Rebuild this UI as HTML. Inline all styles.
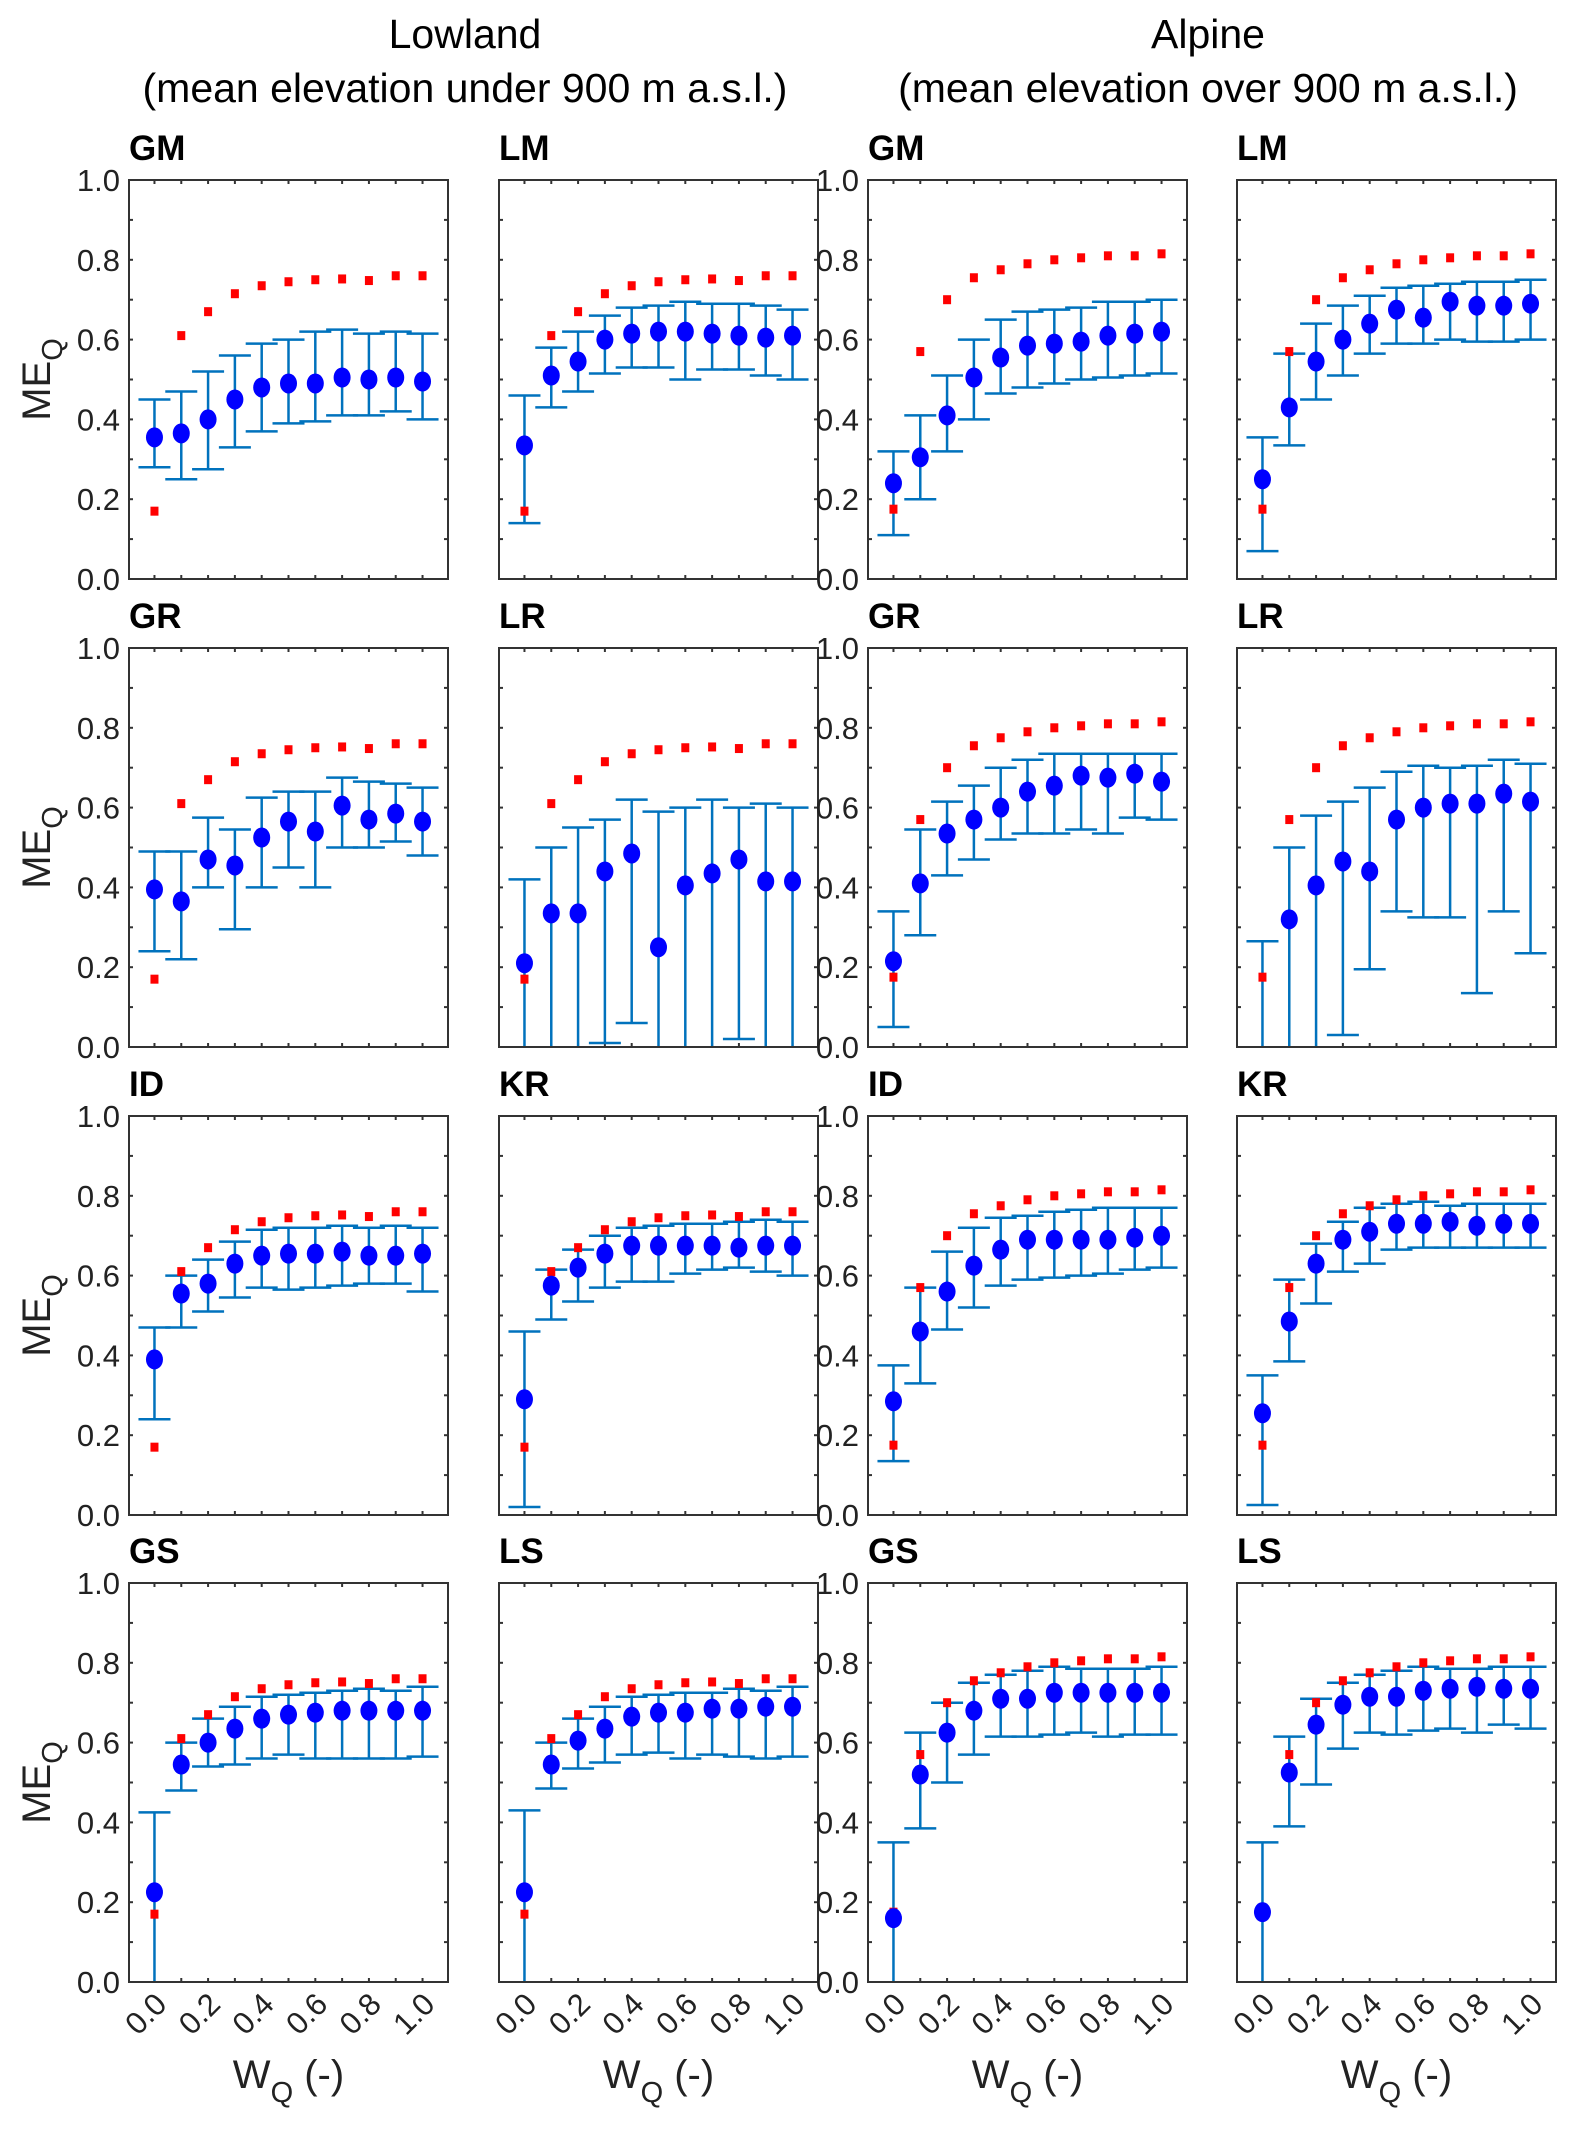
<!DOCTYPE html>
<html><head><meta charset="utf-8"><style>
html,body{margin:0;padding:0;background:#fff;}
svg text{font-family:"Liberation Sans",Arial,sans-serif;}
</style></head><body>
<svg id="fig" width="1574" height="2124" viewBox="0 0 1574 2124" xmlns="http://www.w3.org/2000/svg">
<text x="465" y="48" font-size="41" text-anchor="middle">Lowland</text>
<text x="465" y="102" font-size="41" text-anchor="middle">(mean elevation under 900 m a.s.l.)</text>
<text x="1208" y="48" font-size="41" text-anchor="middle">Alpine</text>
<text x="1208" y="102" font-size="41" text-anchor="middle">(mean elevation over 900 m a.s.l.)</text>
</svg>
<script>
const wq=[0,0.1,0.2,0.3,0.4,0.5,0.6,0.7,0.8,0.9,1.0];
const yTicks=[0,0.2,0.4,0.6,0.8,1.0];
const xTickLabels=[0,0.2,0.4,0.6,0.8,1.0];
const redLowland=[0.17,0.61,0.67,0.715,0.735,0.745,0.75,0.752,0.748,0.76,0.76];
const redAlpine=[0.175,0.57,0.70,0.755,0.775,0.79,0.80,0.805,0.81,0.81,0.815];
const panelNames=["GM","LM","GM","LM","GR","LR","GR","LR","ID","KR","ID","KR","GS","LS","GS","LS"];
const meanVals=[
[0.355,0.365,0.40,0.45,0.48,0.49,0.49,0.505,0.50,0.505,0.495],
[0.335,0.51,0.545,0.60,0.615,0.62,0.62,0.615,0.61,0.605,0.61],
[0.24,0.305,0.41,0.505,0.555,0.585,0.59,0.595,0.61,0.615,0.62],
[0.25,0.43,0.545,0.60,0.64,0.675,0.655,0.695,0.685,0.685,0.69],
[0.395,0.365,0.47,0.455,0.525,0.565,0.54,0.605,0.57,0.585,0.565],
[0.21,0.335,0.335,0.44,0.485,0.25,0.405,0.435,0.47,0.415,0.415],
[0.215,0.41,0.535,0.57,0.60,0.64,0.655,0.68,0.675,0.685,0.665],
[-0.05,0.32,0.405,0.465,0.44,0.57,0.60,0.61,0.61,0.635,0.615],
[0.39,0.555,0.58,0.63,0.65,0.655,0.655,0.66,0.65,0.65,0.655],
[0.29,0.575,0.62,0.655,0.675,0.675,0.675,0.675,0.67,0.675,0.675],
[0.285,0.46,0.56,0.625,0.665,0.69,0.69,0.69,0.69,0.695,0.70],
[0.255,0.485,0.63,0.69,0.71,0.73,0.73,0.735,0.725,0.73,0.73],
[0.225,0.545,0.60,0.635,0.66,0.67,0.675,0.68,0.68,0.68,0.68],
[0.225,0.545,0.605,0.635,0.665,0.675,0.675,0.685,0.685,0.69,0.69],
[0.16,0.52,0.625,0.68,0.71,0.71,0.725,0.725,0.725,0.725,0.725],
[0.175,0.525,0.645,0.695,0.715,0.715,0.73,0.735,0.74,0.735,0.735]];
const hiVals=[
[0.45,0.47,0.52,0.56,0.59,0.60,0.62,0.625,0.615,0.62,0.615],
[0.46,0.58,0.62,0.66,0.68,0.685,0.695,0.69,0.69,0.685,0.675],
[0.32,0.41,0.51,0.60,0.65,0.67,0.675,0.68,0.695,0.695,0.70],
[0.355,0.565,0.64,0.685,0.71,0.73,0.735,0.74,0.745,0.745,0.75],
[0.49,0.49,0.575,0.545,0.625,0.64,0.64,0.675,0.665,0.66,0.65],
[0.42,0.50,0.55,0.57,0.62,0.59,0.60,0.62,0.60,0.61,0.60],
[0.34,0.545,0.615,0.655,0.70,0.72,0.735,0.735,0.735,0.735,0.735],
[0.265,0.50,0.58,0.615,0.65,0.69,0.705,0.70,0.705,0.72,0.71],
[0.47,0.60,0.64,0.685,0.715,0.72,0.72,0.725,0.72,0.725,0.72],
[0.46,0.615,0.665,0.70,0.72,0.725,0.73,0.73,0.735,0.74,0.735],
[0.375,0.57,0.66,0.72,0.745,0.75,0.76,0.765,0.77,0.77,0.77],
[0.35,0.59,0.68,0.735,0.77,0.78,0.785,0.775,0.78,0.78,0.78],
[0.425,0.60,0.66,0.69,0.715,0.72,0.725,0.73,0.735,0.73,0.74],
[0.43,0.60,0.66,0.69,0.715,0.72,0.725,0.725,0.735,0.73,0.74],
[0.35,0.625,0.70,0.75,0.77,0.78,0.79,0.785,0.785,0.785,0.79],
[0.35,0.615,0.71,0.75,0.77,0.78,0.79,0.785,0.785,0.79,0.79]];
const loVals=[
[0.28,0.25,0.275,0.33,0.37,0.39,0.395,0.41,0.41,0.42,0.40],
[0.14,0.43,0.47,0.515,0.53,0.53,0.50,0.525,0.525,0.51,0.50],
[0.11,0.20,0.32,0.40,0.465,0.48,0.49,0.50,0.505,0.51,0.515],
[0.07,0.335,0.45,0.51,0.565,0.59,0.59,0.60,0.595,0.595,0.60],
[0.24,0.22,0.40,0.295,0.40,0.45,0.40,0.50,0.50,0.515,0.48],
[-0.1,-0.1,-0.1,0.01,0.06,-0.1,-0.1,-0.1,0.02,-0.1,-0.1],
[0.05,0.28,0.43,0.47,0.52,0.535,0.535,0.545,0.535,0.575,0.57],
[-0.1,-0.1,-0.1,0.03,0.195,0.34,0.325,0.325,0.135,0.34,0.235],
[0.24,0.47,0.51,0.545,0.57,0.565,0.57,0.575,0.58,0.58,0.56],
[0.02,0.49,0.535,0.57,0.585,0.585,0.605,0.615,0.62,0.61,0.60],
[0.135,0.33,0.465,0.52,0.575,0.59,0.595,0.60,0.605,0.615,0.62],
[0.025,0.385,0.53,0.61,0.63,0.665,0.67,0.67,0.67,0.67,0.67],
[-0.1,0.48,0.54,0.545,0.56,0.57,0.56,0.56,0.56,0.56,0.565],
[-0.1,0.485,0.535,0.55,0.57,0.575,0.56,0.57,0.565,0.56,0.565],
[-0.1,0.385,0.50,0.57,0.615,0.615,0.62,0.625,0.615,0.62,0.62],
[-0.1,0.39,0.495,0.585,0.625,0.62,0.63,0.635,0.625,0.645,0.635]];

const NS="http://www.w3.org/2000/svg";
const svg=document.getElementById('fig');
const colX=[129,499,868,1237], rowY=[180,648,1116,1583], PW=319, PH=399;
function mk(tag,attrs,parent){const e=document.createElementNS(NS,tag);for(const k in attrs)e.setAttribute(k,attrs[k]);(parent||svg).appendChild(e);return e;}
const defs=mk('defs',{});
for(let p=0;p<16;p++){
  const r=Math.floor(p/4), c=p%4, L=colX[c], T=rowY[r];
  const alpine=c>=2;
  const red=alpine?redAlpine:redLowland;
  const sx=v=>L+PW*(v+0.095)/1.19;
  const sy=v=>T+PH*(1-v);
  const g=mk('g',{});
  
  
  const cp=mk('clipPath',{id:'cp'+p},defs);
  mk('rect',{x:L,y:T,width:PW,height:PH},cp);
  const t=mk('text',{x:L,y:T-20,'font-size':35,'font-weight':'bold'},g);
  t.textContent=panelNames[p];
  
  
  for(let i=0;i<=10;i++){const y=sy(i/10);
    mk('line',{x1:L,x2:L+4,y1:y,y2:y,stroke:'#333','stroke-width':2},g);
    mk('line',{x1:L+PW-4,x2:L+PW,y1:y,y2:y,stroke:'#333','stroke-width':2},g);}
  wq.forEach(v=>{const x=sx(v);
    mk('line',{x1:x,x2:x,y1:T,y2:T+4,stroke:'#333','stroke-width':2},g);
    mk('line',{x1:x,x2:x,y1:T+PH-4,y2:T+PH,stroke:'#333','stroke-width':2},g);});
  if(c===0||c===2){
    yTicks.forEach(v=>{const tl=mk('text',{x:L-9,y:sy(v)+11,'font-size':31,'text-anchor':'end',fill:'#222'},g);
      tl.textContent=v.toFixed(1);
      
      });
  }
  if(c===0){
    const yl=mk('text',{transform:`translate(50,${T+PH/2}) rotate(-90)`,'font-size':40,'text-anchor':'middle',fill:'#222'},g);
    yl.innerHTML='ME<tspan font-size="29" dy="12">Q</tspan>';
    
    
  }
  if(r===3){
    xTickLabels.forEach(v=>{const x=sx(v),y=T+PH+24;
      const tl=mk('text',{transform:`translate(${x+14},${y}) rotate(-45)`,'font-size':31,'text-anchor':'end',fill:'#222'},g);
      tl.textContent=v.toFixed(1);
      
      });
    const xl=mk('text',{x:L+PW/2,y:2088,'font-size':40,'text-anchor':'middle',fill:'#222'},g);
    xl.innerHTML='W<tspan font-size="29" dy="14">Q</tspan><tspan dy="-14"> (-)</tspan>';
    
    
  }
  const dg=mk('g',{'clip-path':`url(#cp${p})`},g);
  wq.forEach((v,i)=>{const x=sx(v);
    const eb=mk('g',{stroke:'#0072BD','stroke-width':2.5},dg);
    
    
    mk('line',{x1:x,x2:x,y1:sy(hiVals[p][i]),y2:sy(loVals[p][i])},eb);
    mk('line',{x1:x-16,x2:x+16,y1:sy(hiVals[p][i]),y2:sy(hiVals[p][i])},eb);
    mk('line',{x1:x-16,x2:x+16,y1:sy(loVals[p][i]),y2:sy(loVals[p][i])},eb);
  });
  wq.forEach((v,i)=>{
    const rs=mk('rect',{x:sx(v)-4,y:sy(red[i])-4.5,width:8,height:9,fill:'#ff0000'},dg);
    
    
  });
  wq.forEach((v,i)=>{
    const ci=mk('ellipse',{cx:sx(v),cy:sy(meanVals[p][i]),rx:8.5,ry:10,fill:'#0000ff'},dg);
    
    
  });
  mk('rect',{x:L,y:T,width:PW,height:PH,fill:'none',stroke:'#333','stroke-width':2},g);
}
</script>
</body></html>
